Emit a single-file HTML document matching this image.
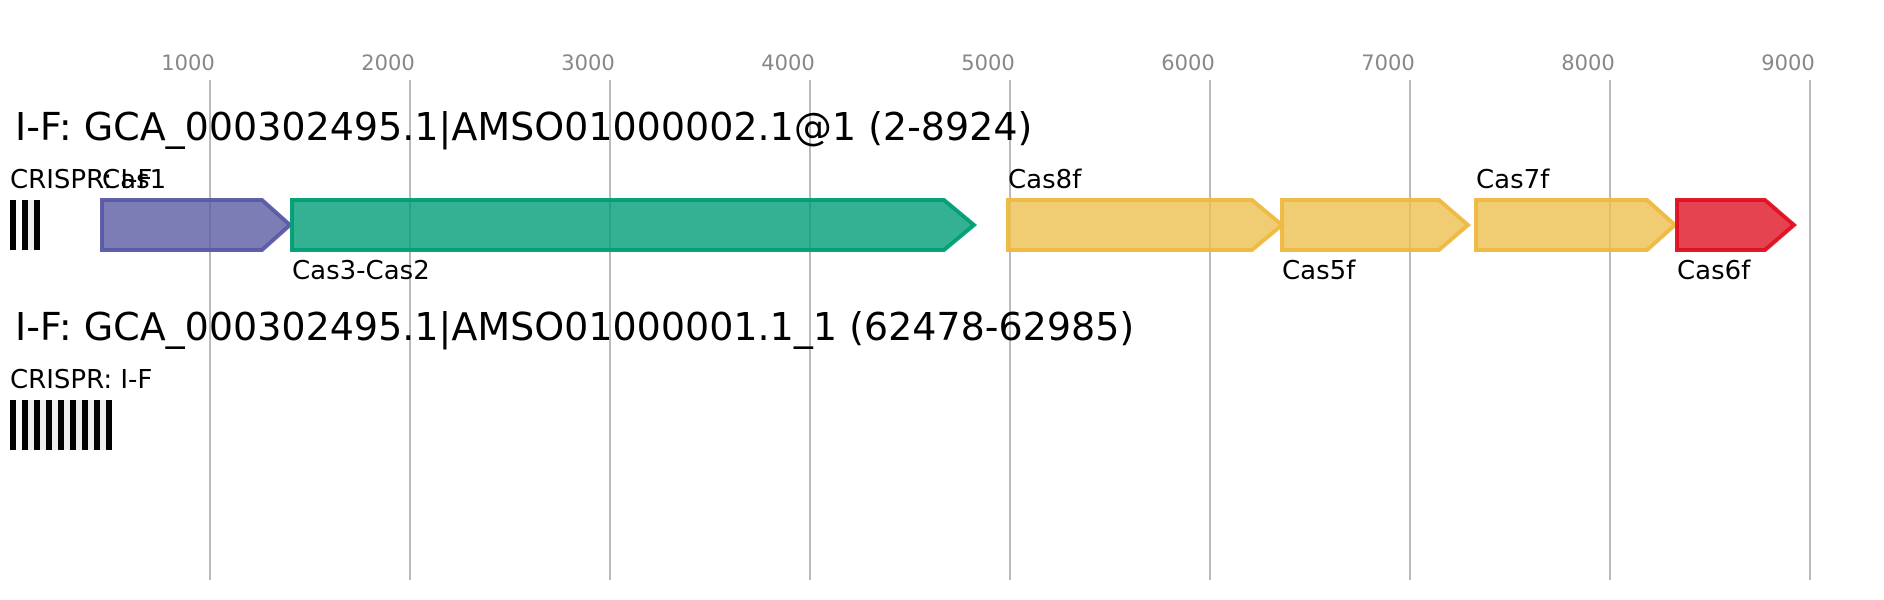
<!DOCTYPE html>
<html>
<head>
<meta charset="utf-8">
<style>
html,body{margin:0;padding:0;background:#fff;width:1884px;height:600px;overflow:hidden}
svg{display:block}
text{font-family:"DejaVu Sans",sans-serif}
.t{font-size:21px;fill:#888;text-anchor:middle}
.h{font-size:38px;fill:#000}
.l{font-size:26px;fill:#000}
.g{stroke:#bbb;stroke-width:2}
.s{stroke-width:4;fill-opacity:.8;stroke-opacity:.95}
</style>
</head>
<body>
<svg width="1884" height="600" viewBox="0 0 1884 600" xmlns="http://www.w3.org/2000/svg">
<rect width="1884" height="600" fill="#fff"/>
<g class="g">
<line x1="210" y1="80" x2="210" y2="580"/>
<line x1="410" y1="80" x2="410" y2="580"/>
<line x1="610" y1="80" x2="610" y2="580"/>
<line x1="810" y1="80" x2="810" y2="580"/>
<line x1="1010" y1="80" x2="1010" y2="580"/>
<line x1="1210" y1="80" x2="1210" y2="580"/>
<line x1="1410" y1="80" x2="1410" y2="580"/>
<line x1="1610" y1="80" x2="1610" y2="580"/>
<line x1="1810" y1="80" x2="1810" y2="580"/>
</g>
<text class="t" x="188" y="70">1000</text>
<text class="t" x="388" y="70">2000</text>
<text class="t" x="588" y="70">3000</text>
<text class="t" x="788" y="70">4000</text>
<text class="t" x="988" y="70">5000</text>
<text class="t" x="1188" y="70">6000</text>
<text class="t" x="1388" y="70">7000</text>
<text class="t" x="1588" y="70">8000</text>
<text class="t" x="1788" y="70">9000</text>

<text class="h" x="15" y="140">I-F: GCA_000302495.1|AMSO01000002.1@1 (2-8924)</text>
<text class="l" x="10" y="188">CRISPR: I-F</text>
<text class="l" x="102" y="188">Cas1</text>

<rect x="16" y="200" width="6" height="50" fill="#fff"/>
<rect x="28" y="200" width="6" height="50" fill="#eee"/>
<g fill="#000">
<rect x="10" y="200" width="6" height="50"/>
<rect x="22" y="200" width="6" height="50"/>
<rect x="34" y="200" width="6" height="50"/>
</g>

<polygon class="s" points="102,200 262,200 290,225 262,250 102,250" fill="#5c5ca2" stroke="#5858a6"/>
<polygon class="s" points="292,200 944,200 974,225 944,250 292,250" fill="#019e77" stroke="#009e73"/>
<polygon class="s" points="1008,200 1252,200 1282,225 1252,250 1008,250" fill="#ecbf50" stroke="#eeb840"/>
<polygon class="s" points="1282,200 1439,200 1468,225 1439,250 1282,250" fill="#ecbf50" stroke="#eeb840"/>
<polygon class="s" points="1476,200 1647,200 1675,225 1647,250 1476,250" fill="#ecbf50" stroke="#eeb840"/>
<polygon class="s" points="1677,200 1765,200 1794,225 1765,250 1677,250" fill="#de1424" stroke="#de0f20"/>

<text class="l" x="292" y="279">Cas3-Cas2</text>
<text class="l" x="1008" y="188">Cas8f</text>
<text class="l" x="1282" y="279">Cas5f</text>
<text class="l" x="1476" y="188">Cas7f</text>
<text class="l" x="1677" y="279">Cas6f</text>

<text class="h" x="15" y="340">I-F: GCA_000302495.1|AMSO01000001.1_1 (62478-62985)</text>
<text class="l" x="10" y="388">CRISPR: I-F</text>

<rect x="10" y="400" width="102" height="50" fill="#eee"/>
<rect x="16" y="400" width="6" height="50" fill="#fafafa"/>
<g fill="#000">
<rect x="10" y="400" width="6" height="50"/>
<rect x="22" y="400" width="6" height="50"/>
<rect x="34" y="400" width="6" height="50"/>
<rect x="46" y="400" width="6" height="50"/>
<rect x="58" y="400" width="6" height="50"/>
<rect x="70" y="400" width="6" height="50"/>
<rect x="82" y="400" width="6" height="50"/>
<rect x="94" y="400" width="6" height="50"/>
<rect x="106" y="400" width="6" height="50"/>
</g>
</svg>
</body>
</html>
